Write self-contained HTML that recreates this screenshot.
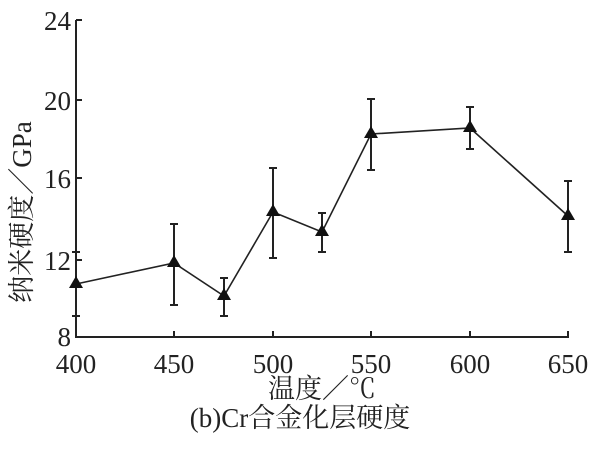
<!DOCTYPE html>
<html><head><meta charset="utf-8"><style>
html,body{margin:0;padding:0;background:#fff;}
svg text{font-family:"Liberation Serif","Noto Serif CJK SC",serif;fill:#222;}
</style></head><body>
<svg width="600" height="450" xmlns="http://www.w3.org/2000/svg">
<g stroke="#222" stroke-width="2" fill="none">
<polyline points="76,20 76,337 569,337"/>
<line x1="76" y1="20" x2="82" y2="20"/>
<line x1="76" y1="100" x2="82" y2="100"/>
<line x1="76" y1="178" x2="82" y2="178"/>
<line x1="76" y1="260" x2="82" y2="260"/>
<line x1="174" y1="337" x2="174" y2="331"/>
<line x1="273" y1="337" x2="273" y2="331"/>
<line x1="371" y1="337" x2="371" y2="331"/>
<line x1="470" y1="337" x2="470" y2="331"/>
<line x1="568" y1="337" x2="568" y2="331"/>
<polyline stroke-width="1.6" points="76,284 174,263 224,296 273,212 322,232 371,134 470,128 568,216"/>
<path d="M76,252V316M72,316h8M72,252h8
M174,224V305M170,224h8M170,305h8
M224,278V316M220,278h8M220,316h8
M273,168V258M269,168h8M269,258h8
M322,213V252M318,213h8M318,252h8
M371,99V170M367,99h8M367,170h8
M470,107V149M466,107h8M466,149h8
M568,181V252M564,181h8M564,252h8"/>
</g>
<g fill="#111">
<path d="M76,276l-7,12h14z"/>
<path d="M174,255l-7,12h14z"/>
<path d="M224,288l-7,12h14z"/>
<path d="M273,204l-7,12h14z"/>
<path d="M322,224l-7,12h14z"/>
<path d="M371,126l-7,12h14z"/>
<path d="M470,120l-7,12h14z"/>
<path d="M568,208l-7,12h14z"/>
</g>
<g font-size="27" text-anchor="end">
<text x="71" y="30">24</text>
<text x="71" y="110">20</text>
<text x="71" y="188">16</text>
<text x="71" y="270">12</text>
<text x="71" y="346">8</text>
</g>
<g font-size="27" text-anchor="middle">
<text x="76" y="373">400</text>
<text x="174" y="373">450</text>
<text x="273" y="373">500</text>
<text x="371" y="373">550</text>
<text x="470" y="373">600</text>
<text x="568" y="373">650</text>
<text x="322" y="398">温度／℃</text>
<text x="300" y="427">(b)Cr合金化层硬度</text>
</g>
<text font-size="27" text-anchor="middle" transform="translate(31,212) rotate(-90)">纳米硬度／GPa</text>
</svg>
</body></html>
